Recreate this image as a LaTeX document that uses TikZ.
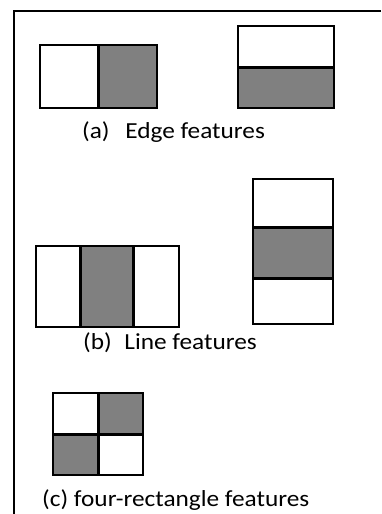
\documentclass[tikz,border=0pt]{standalone}
\usepackage{fontspec}
\setmainfont{Carlito}
\definecolor{feat}{HTML}{808080}
\tikzset{
  box/.style={draw=black, line width=2.6pt},
  dark/.style={fill=feat},
  divider/.style={draw=black, line width=3pt},
  lbl/.style={anchor=base west, inner sep=0pt, font=\fontsize{23}{25}\selectfont},
  frame/.style={draw=black, line width=2pt}
}
\newcommand{\wide}[1]{\scalebox{1.1}[1]{#1}}
\begin{document}
\begin{tikzpicture}[x=1pt,y=-1pt]
\useasboundingbox (0,0) rectangle (381,514);
% frame
\coordinate (ftr) at (381,11);
\coordinate (ftl) at (13.5,11);
\coordinate (fbl) at (13.5,514);
\draw[frame] (ftr) -- (ftl) -- (fbl);
% (a) edge features
\path[dark] (98,45) rectangle (157,108);
\draw[box] (40,45) rectangle (157,108);
\draw[divider] (98,45) -- (98,108);
\path[dark] (238,67) rectangle (334,108);
\draw[box] (238,26) rectangle (334,108);
\draw[divider] (238,67) -- (334,67);
\node[lbl] (la) at (82,138) {\wide{(a)\hspace{0.62em}Edge features}};
% (b) line features
\path[dark] (80,246) rectangle (133,327);
\draw[box] (36,246) rectangle (179,327);
\draw[divider] (80,246) -- (80,327);
\draw[divider] (133,246) -- (133,327);
\path[dark] (253,227) rectangle (333,278);
\draw[box] (253,179) rectangle (333,324);
\draw[divider] (253,227) -- (333,227);
\draw[divider] (253,278) -- (333,278);
\node[lbl] (lb) at (83,349) {\wide{(b)\hspace{0.5em}Line features}};
% (c) four-rectangle features
\path[dark] (98,393) rectangle (143,434);
\path[dark] (53,434) rectangle (98,475);
\draw[box] (53,393) rectangle (143,475);
\draw[divider] (98,393) -- (98,475);
\draw[divider] (53,434) -- (143,434);
\node[lbl] (lc) at (42,506) {\wide{(c) four-rectangle features}};
\end{tikzpicture}
\end{document}
